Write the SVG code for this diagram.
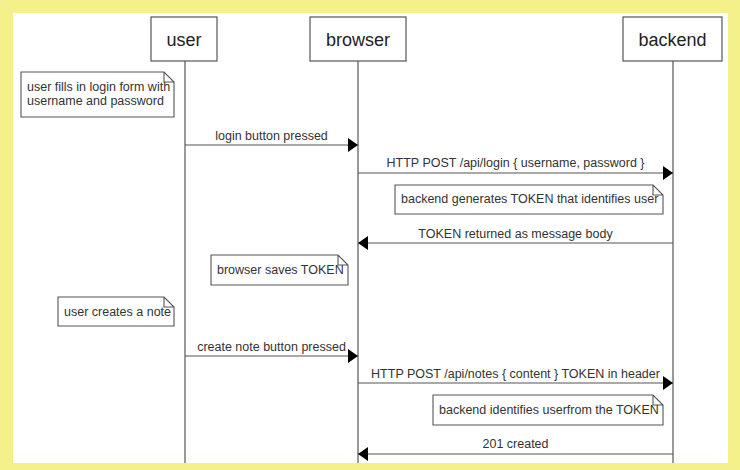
<svg xmlns="http://www.w3.org/2000/svg" width="740" height="470" viewBox="0 0 740 470">
<style>
.bg{fill:#f4f18a}
.frame{fill:#ffffff}
.actor rect{fill:#ffffff;stroke:#555;stroke-width:1.2}
.actor text{font-family:"Liberation Sans",Arial,sans-serif;font-size:18px;fill:#222;text-anchor:middle}
.life{stroke:#555;stroke-width:1.2;fill:none}
.msg{stroke:#555;stroke-width:1.2;fill:none;marker-end:url(#ah)}
.lbl{font-family:"Liberation Sans",Arial,sans-serif;font-size:12.5px;fill:#333;text-anchor:middle}
.note path{fill:#ffffff;stroke:#555;stroke-width:1.1}
.note text{font-family:"Liberation Sans",Arial,sans-serif;font-size:12.5px;fill:#333}
</style>
<defs>
<marker id="ah" markerUnits="userSpaceOnUse" markerWidth="10" markerHeight="14" refX="10" refY="7" orient="auto">
<path d="M0,0 L10,7 L0,14 Z" fill="#000"/>
</marker>
</defs>
<rect class="bg" x="0" y="0" width="740" height="470"/>
<rect class="frame" x="13" y="13" width="715" height="450"/>

<g id="lifelines">
<line class="life" x1="185" y1="61" x2="185" y2="463"/>
<line class="life" x1="358" y1="61" x2="358" y2="463"/>
<line class="life" x1="673" y1="61" x2="673" y2="463"/>
</g>

<g id="user" class="actor"><rect x="151" y="17" width="66" height="44"/><text x="184" y="46">user</text></g>
<g id="browser" class="actor"><rect x="310" y="17" width="96" height="44"/><text x="358" y="46">browser</text></g>
<g id="backend" class="actor"><rect x="623" y="17" width="99" height="44"/><text x="672.5" y="46">backend</text></g>

<g id="connectors">
<line class="msg" x1="185" y1="145" x2="358" y2="145"/>
<text class="lbl" x="271.5" y="140">login button pressed</text>
<line class="msg" x1="358" y1="173" x2="673" y2="173"/>
<text class="lbl" x="515.5" y="167">HTTP POST /api/login { username, password }</text>
<line class="msg" x1="673" y1="243" x2="358" y2="243"/>
<text class="lbl" x="515.5" y="238">TOKEN returned as message body</text>
<line class="msg" x1="185" y1="356" x2="358" y2="356"/>
<text class="lbl" x="271.5" y="351">create note button pressed</text>
<line class="msg" x1="358" y1="383" x2="673" y2="383"/>
<text class="lbl" x="515.5" y="378">HTTP POST /api/notes { content } TOKEN in header</text>
<line class="msg" x1="673" y1="454" x2="358" y2="454"/>
<text class="lbl" x="515.5" y="448">201 created</text>
</g>

<g id="note1" class="note">
<path d="M21,72 H164 L174,82 V117 H21 Z M164,72 V82 H174"/>
<text x="27" y="91">user fills in login form with</text>
<text x="27" y="105">username and password</text>
</g>
<g id="note2" class="note">
<path d="M395,185 H653 L663,195 V214 H395 Z M653,185 V195 H663"/>
<text x="401" y="203">backend generates TOKEN that identifies user</text>
</g>
<g id="note3" class="note">
<path d="M211,255 H338 L348,265 V285 H211 Z M338,255 V265 H348"/>
<text x="217" y="274">browser saves TOKEN</text>
</g>
<g id="note4" class="note">
<path d="M58,297 H164 L174,307 V326 H58 Z M164,297 V307 H174"/>
<text x="64" y="316">user creates a note</text>
</g>
<g id="note5" class="note">
<path d="M433,395 H653 L663,405 V425 H433 Z M653,395 V405 H663"/>
<text x="439" y="414">backend identifies userfrom the TOKEN</text>
</g>
</svg>
